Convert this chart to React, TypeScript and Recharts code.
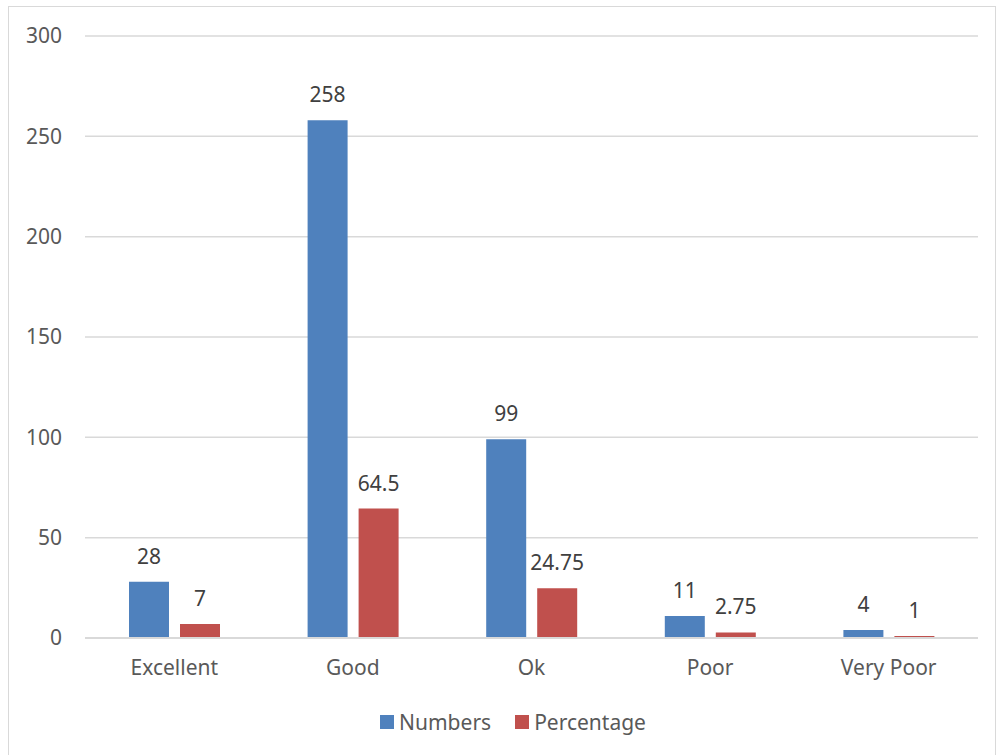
import { BarChart, Bar, XAxis, YAxis, CartesianGrid, Legend, LabelList } from 'recharts';

const categories = ['Excellent', 'Good', 'Ok', 'Poor', 'Very Poor'];
const numbers = [28, 258, 99, 11, 4];
const percentage = [7, 64.5, 24.75, 2.75, 1];
const yTicks = [0, 50, 100, 150, 200, 250, 300];

const series = [
  { key: 'numbers', name: 'Numbers', color: '#4f81bd' },
  { key: 'percentage', name: 'Percentage', color: '#c0504d' },
];

const data = categories.map((name, i) => ({
  name,
  numbers: numbers[i],
  percentage: percentage[i],
}));

const FONT = '"Noto Sans", "Open Sans", sans-serif';
const TEXT = '#595959';

function LegendBox() {
  return (
    <div
      style={{
        display: 'flex',
        justifyContent: 'center',
        fontFamily: FONT,
        fontSize: 21,
        color: TEXT,
        height: 28,
        transform: 'translateX(24px)',
      }}
    >
      {series.map((s, i) => (
        <div key={s.key} style={{ display: 'flex', alignItems: 'center', marginLeft: i ? 24 : 0 }}>
          <span style={{ width: 14, height: 14, background: s.color, marginRight: 5, display: 'inline-block' }} />
          <span>{s.name}</span>
        </div>
      ))}
    </div>
  );
}

export default function App() {
  return (
    <div style={{ position: 'absolute', left: 0, top: 0, width: 996, height: 755, background: '#fff', overflow: 'hidden' }}>
      <div
        style={{
          position: 'absolute',
          left: 8,
          top: 6,
          width: 986,
          height: 760,
          border: '1px solid #d9d9d9',
        }}
      />
      <BarChart
        width={996}
        height={755}
        data={data}
        margin={{ top: 36, right: 18, bottom: 0, left: 0 }}
        barGap={11}
        barSize={40}
        style={{ position: 'absolute', left: 0, top: 0 }}
      >
        <CartesianGrid vertical={false} stroke="#d9d9d9" strokeWidth={1.5} />
        <XAxis
          dataKey="name"
          axisLine={{ stroke: '#d9d9d9', strokeWidth: 2 }}
          tickLine={false}
          tickSize={0}
          tickMargin={22}
          height={89}
          tick={{ fill: TEXT, fontSize: 21, fontFamily: FONT }}
        />
        <YAxis
          domain={[0, 300]}
          ticks={yTicks}
          axisLine={false}
          tickLine={false}
          tickSize={0}
          tickMargin={23}
          width={85}
          tick={{ fill: TEXT, fontSize: 21, fontFamily: FONT }}
        />
        <Legend
          verticalAlign="bottom"
          content={<LegendBox />}
          wrapperStyle={{ bottom: 19 }}
        />
        {series.map((s) => (
          <Bar key={s.key} dataKey={s.key} name={s.name} fill={s.color} isAnimationActive={false}>
            <LabelList
              dataKey={s.key}
              position="top"
              offset={18}
              style={{ fill: '#404040', fontSize: 21, fontFamily: FONT }}
            />
          </Bar>
        ))}
      </BarChart>
    </div>
  );
}
